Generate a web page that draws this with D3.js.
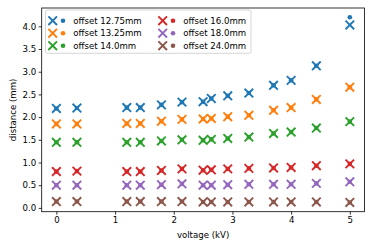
<!DOCTYPE html>
<html>
<head>
<meta charset="utf-8">
<script src="https://cdn.jsdelivr.net/npm/d3@7"></script>
<style>
	body { margin: 0; background: #fff; }
	svg text { font-family: "DejaVu Sans", sans-serif; font-size: 8.6px; fill: #000; }
</style>
</head>
<body>
<div id="chart"></div>
<script>
// voltage (kV)
const voltage = [0, 0.35, 1.2, 1.43, 1.79, 2.14, 2.5, 2.64, 2.92, 3.28, 3.7, 4.0, 4.43, 5.0];

// measured (x markers)
const meas1275 = [2.19, 2.20, 2.21, 2.21, 2.27, 2.33, 2.34, 2.41, 2.47, 2.53, 2.70, 2.81, 3.13, 4.03];
const meas1325 = [1.85, 1.85, 1.86, 1.86, 1.91, 1.95, 1.96, 1.97, 2.01, 2.04, 2.15, 2.21, 2.39, 2.66];
const meas1400 = [1.445, 1.445, 1.445, 1.445, 1.475, 1.50, 1.49, 1.51, 1.53, 1.56, 1.64, 1.67, 1.76, 1.90];
const meas1600 = [0.80, 0.81, 0.80, 0.80, 0.825, 0.86, 0.83, 0.84, 0.86, 0.87, 0.88, 0.89, 0.93, 0.97];
const meas1800 = [0.50, 0.50, 0.50, 0.50, 0.51, 0.53, 0.50, 0.50, 0.51, 0.52, 0.52, 0.52, 0.54, 0.575];
const meas2400 = [0.14, 0.14, 0.14, 0.14, 0.14, 0.14, 0.13, 0.13, 0.13, 0.13, 0.13, 0.13, 0.13, 0.12];

// model (dots)
const model1275 = [2.19, 2.20, 2.21, 2.21, 2.27, 2.33, 2.34, 2.41, 2.47, 2.53, 2.70, 2.81, 3.13, 4.20];
const model1325 = [1.85, 1.85, 1.86, 1.86, 1.91, 1.95, 1.96, 1.97, 2.01, 2.04, 2.15, 2.21, 2.39, 2.66];
const model1400 = [1.445, 1.445, 1.445, 1.445, 1.475, 1.50, 1.49, 1.51, 1.53, 1.56, 1.64, 1.67, 1.76, 1.90];
const model1600 = [0.80, 0.81, 0.80, 0.80, 0.825, 0.86, 0.83, 0.84, 0.86, 0.87, 0.88, 0.89, 0.93, 0.97];
const model1800 = [0.50, 0.50, 0.50, 0.50, 0.51, 0.53, 0.50, 0.50, 0.51, 0.52, 0.52, 0.52, 0.54, 0.575];
const model2400 = [0.14, 0.14, 0.14, 0.14, 0.14, 0.14, 0.13, 0.13, 0.13, 0.13, 0.13, 0.13, 0.13, 0.12];

const labels = ['offset 12.75mm', 'offset 13.25mm', 'offset 14.0mm', 'offset 16.0mm', 'offset 18.0mm', 'offset 24.0mm'];
const colors = ['#1f77b4', '#ff7f0e', '#2ca02c', '#d62728', '#9467bd', '#8c564b'];
const xTicks = [0, 1, 2, 3, 4, 5];
const yTicks = [0, 0.5, 1, 1.5, 2, 2.5, 3, 3.5, 4];

const measured = [meas1275, meas1325, meas1400, meas1600, meas1800, meas2400];
const model = [model1275, model1325, model1400, model1600, model1800, model2400];

const W = 374, H = 249;
const margin = { left: 41.7, right: 9.5, top: 8, bottom: 37.3 };
const X_PATH = 'M-4.3,-4.3L4.3,4.3M-4.3,4.3L4.3,-4.3';

function padded(lo, hi) {
	const d = (hi - lo) * 0.05;
	return [lo - d, hi + d];
}

function drawMarkers(g, x, y, xs, ys, color) {
	g.append('g').selectAll('path')
		.data(ys)
		.join('path')
		.attr('transform', (d, i) => `translate(${x(xs[i])},${y(d)})`)
		.attr('d', X_PATH)
		.attr('fill', 'none')
		.attr('stroke', color)
		.attr('stroke-width', 1.9);
}

function drawDots(g, x, y, xs, ys, color) {
	g.append('g').selectAll('circle')
		.data(ys)
		.join('circle')
		.attr('cx', (d, i) => x(xs[i]))
		.attr('cy', d => y(d))
		.attr('r', 2.3)
		.attr('fill', color);
}

function drawLegend(svg) {
	const lg = svg.append('g').attr('transform', 'translate(45.5,10)');
	lg.append('rect')
		.attr('x', 0).attr('y', 0)
		.attr('width', 205.5).attr('height', 43.3)
		.attr('rx', 2)
		.attr('fill', '#fff').attr('fill-opacity', 0.8)
		.attr('stroke', '#ccc').attr('stroke-width', 0.8);

	labels.forEach((label, i) => {
		const col = Math.floor(i / 3), row = i % 3;
		const item = lg.append('g')
			.attr('transform', `translate(${7.2 + col * 110},${10.7 + row * 12.5})`);
		item.append('path').attr('d', X_PATH)
			.attr('fill', 'none').attr('stroke', colors[i]).attr('stroke-width', 1.9);
		item.append('circle').attr('cx', 10.3).attr('cy', 0).attr('r', 2.3).attr('fill', colors[i]);
		item.append('text').attr('x', 20.6).attr('y', 3.1).text(label);
	});
}

function drawChart() {
	const svg = d3.select('#chart').append('svg').attr('width', W).attr('height', H);

	const allY = measured.flat().concat(model.flat());
	const x = d3.scaleLinear()
		.domain(padded(d3.min(voltage), d3.max(voltage)))
		.range([margin.left, W - margin.right]);
	const y = d3.scaleLinear()
		.domain(padded(d3.min(allY), d3.max(allY)))
		.range([H - margin.bottom, margin.top]);

	/* axes */
	const xAxis = svg.append('g')
		.attr('transform', `translate(0,${H - margin.bottom})`)
		.call(d3.axisBottom(x).tickValues(xTicks).tickFormat(d3.format('d')).tickSize(3).tickPadding(2.6));
	const yAxis = svg.append('g')
		.attr('transform', `translate(${margin.left},0)`)
		.call(d3.axisLeft(y).tickValues(yTicks).tickFormat(d3.format('.1f')).tickSize(3).tickPadding(2.6));
	[xAxis, yAxis].forEach(a => {
		a.select('.domain').remove();
		a.selectAll('line').attr('stroke', '#000').attr('stroke-width', 0.8);
		a.selectAll('text').attr('font-family', null).attr('font-size', null);
	});

	svg.append('rect')
		.attr('x', margin.left).attr('y', margin.top)
		.attr('width', W - margin.left - margin.right)
		.attr('height', H - margin.top - margin.bottom)
		.attr('fill', 'none').attr('stroke', '#000').attr('stroke-width', 0.8);

	svg.append('text')
		.attr('x', (margin.left + W - margin.right) / 2).attr('y', 237.5)
		.attr('text-anchor', 'middle')
		.text('voltage (kV)');
	svg.append('text')
		.attr('transform', `translate(16,${(margin.top + H - margin.bottom) / 2}) rotate(-90)`)
		.attr('text-anchor', 'middle')
		.text('distance (mm)');

	/* data */
	const plot = svg.append('g');
	measured.forEach((ys, i) => {
		drawMarkers(plot, x, y, voltage, ys, colors[i]);
		drawDots(plot, x, y, voltage, model[i], colors[i]);
	});

	drawLegend(svg);
}

drawChart();
</script>
</body>
</html>
